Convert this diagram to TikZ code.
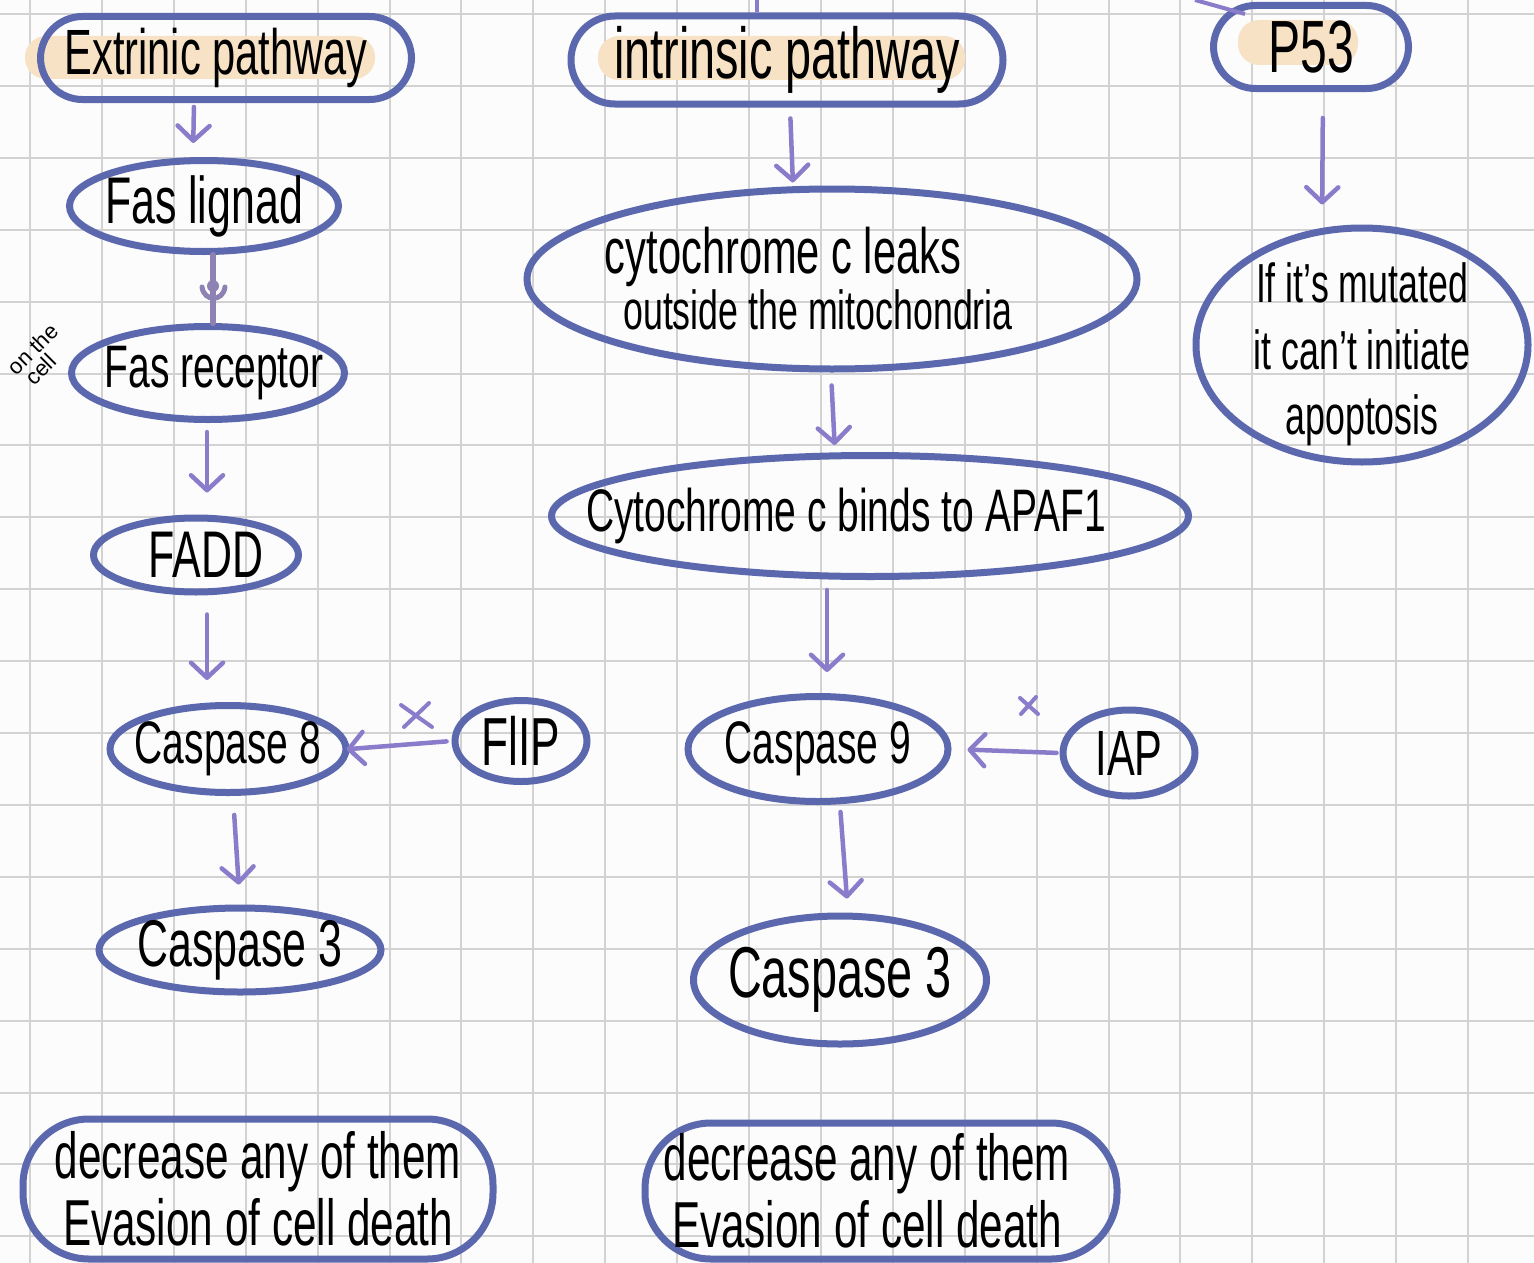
\documentclass[tikz,border=0pt]{standalone}
\usepackage{fontspec}
\setmainfont{Liberation Sans}[FakeStretch=0.65]
\newfontfamily\widehand{Liberation Sans}
\usetikzlibrary{arrows.meta,positioning,shapes.geometric}
\definecolor{paper}{HTML}{FCFCFC}
\definecolor{gridline}{HTML}{D2D2D2}
\definecolor{rim}{HTML}{5B68AE}
\definecolor{flow}{HTML}{8B7BCB}
\definecolor{bond}{HTML}{8E82B5}
\definecolor{peach}{HTML}{F8E2C6}

\tikzset{
  oval/.style={draw=rim,line width=7pt,ellipse,inner sep=0pt},
  pill/.style={draw=rim,line width=7pt,rectangle,inner sep=0pt},
  hand/.style={font=\fontsize{#1}{#1}\selectfont,text=black,inner sep=0pt},
  link/.style={flow,line width=4.5pt,line cap=round,
    -{Straight Barb[length=15pt,width=32pt,round]}},
  cross/.style={flow,line width=4pt,line cap=round},
}

\begin{document}
\begin{tikzpicture}[x=1pt,y=-1pt]
  \useasboundingbox (0,0) rectangle (1534,1263);
  \fill[paper] (0,0) rectangle (1534,1263);

  % grid paper
  \foreach \gx in {0,...,21}
    \draw[gridline,line width=2pt] (30+71.9*\gx,0) -- ++(0,1263);
  \foreach \gy in {0,...,17}
    \draw[gridline,line width=2pt] (0,14+71.9*\gy) -- ++(1534,0);

  % highlights
  \fill[peach,rounded corners=21pt] (25,36) rectangle (375,79);
  \fill[peach,rounded corners=21pt] (598,36) rectangle (965,80);
  \fill[peach,rounded corners=21pt] (1238,20) rectangle (1358,65);

  % Extrinsic column
  \node[pill,rounded corners=42pt,minimum width=371,minimum height=83,
    label={[hand=64,xshift=-10pt]center:{Extrinic pathway}}] (ext) at (226,58) {};
  \node[oval,minimum width=269,minimum height=91,
    label={[hand=66]center:{Fas lignad}}] (faslig) at (204,206) {};
  \node[oval,minimum width=273,minimum height=93,
    label={[hand=60,xshift=6pt]center:{Fas receptor}}] (fasrec) at (208,373) {};
  \node[font=\widehand\fontsize{22}{20}\selectfont,align=left,rotate=45,inner sep=0pt]
    (onCell) at (40,356) {on the\\\hspace*{5pt}cell};
  \node[oval,minimum width=205,minimum height=74,
    label={[hand=66,xshift=10pt]center:{FADD}}] (fadd) at (196,555) {};
  \node[oval,minimum width=236,minimum height=87,
    label={[hand=60]center:{Caspase 8}}] (casp8) at (228,749) {};
  \node[oval,minimum width=132,minimum height=81,
    label={[hand=68]center:{FlIP}}] (flip) at (521,741) {};
  \node[oval,minimum width=282,minimum height=84,
    label={[hand=66]center:{Caspase 3}}] (casp3L) at (240,950) {};
  \node[pill,rounded corners=66pt,minimum width=470,minimum height=140,
    label={[hand=65,align=center]center:{decrease any of them\\[2pt]Evasion of cell death}}]
    (decL) at (258,1189) {};

  % Intrinsic column
  \node[pill,rounded corners=44pt,minimum width=432,minimum height=88,
    label={[hand=72]center:{intrinsic pathway}}] (intr) at (787,60) {};
  \node[oval,minimum width=610,minimum height=180,
    label={[align=center,text=black,inner sep=0pt]center:{\fontsize{64}{64}\selectfont
      \hspace*{-98pt}cytochrome c leaks\\[2pt]\fontsize{55}{55}\selectfont
      \hspace*{-28pt}outside the mitochondria}}] (leaks) at (832,279) {};
  \node[oval,minimum width=637,minimum height=121,
    label={[hand=60,xshift=-24pt]center:{Cytochrome c binds to APAF1}}] (binds) at (870,516) {};
  \node[oval,minimum width=260,minimum height=105,
    label={[hand=60]center:{Caspase 9}}] (casp9) at (818,749) {};
  \node[oval,minimum width=132,minimum height=86,
    label={[hand=64]center:{IAP}}] (iap) at (1129,753) {};
  \node[oval,minimum width=293,minimum height=128,
    label={[hand=72]center:{Caspase 3}}] (casp3R) at (840,980) {};
  \node[pill,rounded corners=66pt,minimum width=472,minimum height=136,
    label={[hand=65,align=center,xshift=-14pt]center:{decrease any of them\\[2pt]Evasion of cell death}}]
    (decR) at (881,1191) {};

  % P53 column
  \node[pill,rounded corners=42pt,minimum width=195,minimum height=83,
    label={[hand=74]center:{P53}}] (p53) at (1311,47) {};
  \node[oval,minimum width=332,minimum height=234,
    label={[hand=55,align=center,yshift=-9pt]center:{If it's mutated\\[12pt]it can't initiate\\[10pt]apoptosis}}]
    (mut) at (1362,345) {};

  % lines coming in from above
  \coordinate (topA) at (757,0);
  \coordinate (topB) at (1195,0);
  \draw[flow,line width=4pt] ([xshift=-30pt]intr.north) -- (topA);
  \draw[flow,line width=4pt] ([xshift=-66pt,yshift=-12pt]p53.north) -- (topB);

  % ligand / receptor
  \draw[bond,line width=6pt,line cap=round] ([xshift=9pt]faslig.south) -- ([xshift=5pt]fasrec.north);
  \fill[bond] ([xshift=9pt,yshift=-31pt]faslig.south) circle (6pt);
  \draw[bond,line width=5pt,line cap=round]
    ([xshift=-2pt,yshift=-32pt]faslig.south) .. controls ([xshift=0pt,yshift=-47pt]faslig.south)
    and ([xshift=19pt,yshift=-47pt]faslig.south) .. ([xshift=21pt,yshift=-32pt]faslig.south);

  % arrows
  \draw[link,shorten <=4pt,shorten >=14pt] ([xshift=-32pt]ext.south) -- ([xshift=-11pt]faslig.north);
  \draw[link,shorten <=9pt,shorten >=22pt] ([xshift=-1pt]fasrec.south) -- ([xshift=11pt]fadd.north);
  \draw[link,shorten <=19pt,shorten >=22pt] ([xshift=11pt]fadd.south) -- ([xshift=-21pt]casp8.north);
  \draw[link,shorten <=19pt,shorten >=20pt] ([xshift=5pt]casp8.south) -- (casp3L.north);
  \draw[link,shorten <=5pt,shorten >=-3pt] (flip.west) -- (casp8.east);

  \draw[link,shorten <=11pt,shorten >=3pt] ([xshift=3pt]intr.south) -- ([xshift=-39pt]leaks.north);
  \draw[link,shorten <=13pt,shorten >=7pt] ([xshift=-1pt]leaks.south) -- ([xshift=-35pt]binds.north);
  \draw[link,shorten <=10pt,shorten >=21pt] ([xshift=-43pt]binds.south) -- ([xshift=9pt]casp9.north);
  \draw[link,shorten <=7pt,shorten >=14pt] ([xshift=22pt]casp9.south) -- ([xshift=8pt]casp3R.north);
  \draw[link,shorten <=3pt,shorten >=16pt] (iap.west) -- (casp9.east);

  \draw[link,shorten <=26pt,shorten >=20pt] ([xshift=12pt]p53.south) -- ([xshift=-40pt]mut.north);

  % blocked marks
  \draw[cross] (401,705) -- (432,727) (404,727) -- (429,703);
  \draw[cross] (1020,698) -- (1038,714) (1021,714) -- (1036,697);
\end{tikzpicture}
\end{document}
